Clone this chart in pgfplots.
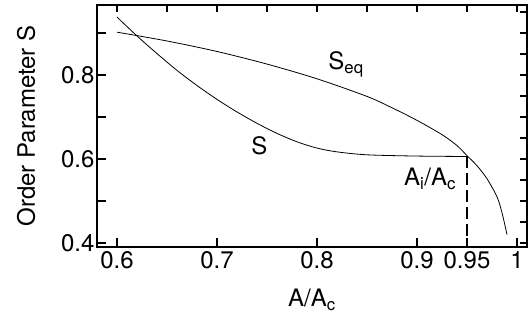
\documentclass[border=0pt]{standalone}
\usepackage{fontspec}
\setmainfont{TeX Gyre Heros}
\usepackage{pgfplots}
\pgfplotsset{compat=1.18}
\begin{document}
\begin{tikzpicture}
\useasboundingbox (-97pt,-73pt) rectangle (431pt,247pt);
\pgfplotsset{
  common/.style={
    scale only axis, width=430pt, height=242pt,
    at={(0pt,0pt)}, anchor=south west,
    xmin=0.58, xmax=1.01, ymin=0.3905, ymax=0.9667,
    axis line style={line width=1.4pt},
    tick style={line width=1.1pt, black},
    major tick length=9pt,
    tick align=inside,
    /pgf/number format/assume math mode=true,
    tick label style={font=\fontsize{24}{28}\selectfont},
    label style={font=\fontsize{24}{28}\selectfont},
  }
}
\begin{axis}[common,
  xtick={0.6,0.7,0.8,0.9,0.95,1},
  xticklabels={0.6,0.7,0.8,0.9,0.95,1},
  xtick pos=bottom,
  ytick={0.4,0.5,0.6,0.7,0.8,0.9},
  yticklabels={0.4,,0.6,,0.8,},
  ytick pos=left,
  xticklabel style={yshift=-1pt},
  yticklabel style={xshift=1pt},
  xlabel={A/A\textsubscript{c}},
  ylabel={Order Parameter S},
  xlabel style={at={(axis description cs:0.5,0)}, anchor=base, yshift=-60pt},
  ylabel style={at={(axis description cs:0,0.5)}, anchor=base, yshift=62pt},
]
% S_eq
\addplot[black, line width=0.8pt, smooth, tension=0.5] coordinates {
(0.600,0.902) (0.650,0.881) (0.700,0.856) (0.750,0.826) (0.800,0.791)
(0.850,0.749) (0.875,0.722) (0.900,0.692) (0.925,0.658) (0.940,0.632)
(0.950,0.608) (0.960,0.584) (0.970,0.553) (0.980,0.510) (0.985,0.472)
(0.990,0.420)
};
% S
\addplot[black, line width=0.8pt, smooth, tension=0.5] coordinates {
(0.600,0.938) (0.620,0.893) (0.640,0.851) (0.660,0.811) (0.680,0.775)
(0.700,0.742) (0.720,0.712) (0.740,0.685) (0.760,0.661) (0.780,0.641)
(0.800,0.626) (0.820,0.617) (0.850,0.610) (0.900,0.607) (0.950,0.606)
};
% A_i/A_c dashed marker
\addplot[black, line width=1.1pt, dash pattern=on 12pt off 5pt] coordinates {
(0.95,0.606) (0.95,0.3905)
};
\node[font=\fontsize{24}{28}\selectfont] at (axis cs:0.829,0.826) {S\textsubscript{eq}};
\node[font=\fontsize{24}{28}\selectfont] at (axis cs:0.7425,0.631) {S};
\node[font=\fontsize{24}{28}\selectfont] at (axis cs:0.913,0.552) {A\textsubscript{i}/A\textsubscript{c}};
\end{axis}
\begin{axis}[common,
  xtick={0.6,0.65,...,1.0},
  xtick pos=top,
  xticklabels={},
  ytick={0.4,0.45,...,0.95},
  ytick pos=right,
  yticklabels={},
  major tick length=7pt,
]
\end{axis}
\end{tikzpicture}
\end{document}
